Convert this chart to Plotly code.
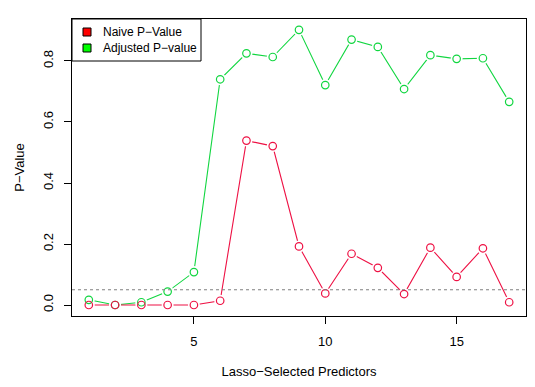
import plotly.graph_objects as go

predictors = list(range(1, 18))
naive_p = [0.0, 0.0, 0.0, 0.0, 0.0, 0.014, 0.539, 0.521, 0.192, 0.038, 0.168, 0.122, 0.036, 0.188, 0.092, 0.186, 0.009]
adjusted_p = [0.017, 0.0, 0.009, 0.044, 0.108, 0.740, 0.825, 0.813, 0.902, 0.721, 0.870, 0.846, 0.708, 0.819, 0.807, 0.809, 0.666]
threshold = 0.05
x_ticks = [5, 10, 15]
y_ticks = [0.0, 0.2, 0.4, 0.6, 0.8]
legend_labels = ["Naive P\u2212Value", "Adjusted P\u2212value"]
legend_fills = ["#FF0000", "#00FF00"]

RED = "#EE1144"
GREEN = "#11D640"
FONT = "Liberation Sans, Arial, sans-serif"
FS = 13

# page body has an 8px default margin; size figure so the plot area lands where the reference has it
W, H = 519, 371
ML, MR, MT, MB = 64, 1, 11, 63
PW, PH = W - ML - MR, H - MT - MB

fig = go.Figure()
for ys, c in [(adjusted_p, GREEN), (naive_p, RED)]:
    fig.add_trace(go.Scatter(x=predictors, y=ys, mode="lines", line=dict(color=c, width=1.1),
                             showlegend=False, hoverinfo="skip"))
for ys in [adjusted_p, naive_p]:
    fig.add_trace(go.Scatter(x=predictors, y=ys, mode="markers",
                             marker=dict(symbol="circle", size=12, color="white", line=dict(width=0)),
                             showlegend=False, hoverinfo="skip"))
for ys, c, n in [(adjusted_p, GREEN, legend_labels[1]), (naive_p, RED, legend_labels[0])]:
    fig.add_trace(go.Scatter(x=predictors, y=ys, mode="markers", name=n,
                             marker=dict(symbol="circle-open", size=7.5, color=c, line=dict(width=1.2, color=c)),
                             showlegend=False))

fig.add_shape(type="line", xref="paper", x0=0, x1=1, yref="y", y0=threshold, y1=threshold,
              line=dict(color="#808080", width=1.2, dash="dot"))

# legend box drawn by hand (R-style)
def px_x(p):
    return p / PW
def px_y(p):
    return 1 - p / PH

fig.add_shape(type="rect", xref="paper", yref="paper", x0=0, x1=px_x(129), y0=px_y(42), y1=1,
              line=dict(color="black", width=1), fillcolor="white", layer="above")
for i, (lab, col) in enumerate(zip(legend_labels, legend_fills)):
    cy = 13 + 16 * i
    fig.add_shape(type="rect", xref="paper", yref="paper",
                  x0=px_x(11), x1=px_x(19), y0=px_y(cy + 4), y1=px_y(cy - 4),
                  line=dict(color="black", width=1), fillcolor=col, layer="above")
    fig.add_annotation(xref="paper", yref="paper", x=px_x(29), y=px_y(cy), text=lab,
                       showarrow=False, xanchor="left", yanchor="middle",
                       font=dict(size=12, family=FONT, color="black"))

fig.update_layout(
    width=W, height=H,
    margin=dict(l=ML, r=MR, t=MT, b=MB),
    paper_bgcolor="white", plot_bgcolor="white",
    font=dict(family=FONT, size=FS, color="black"),
    showlegend=False,
    xaxis=dict(range=[0.36, 17.64], tickvals=x_ticks, ticktext=[str(v) for v in x_ticks],
               automargin=False, ticklabelstandoff=6,
               showgrid=False, zeroline=False, showline=True, linecolor="black", linewidth=1, mirror=True,
               ticks="outside", ticklen=7, tickcolor="black",
               title=dict(text="Lasso\u2212Selected Predictors", standoff=20, font=dict(size=FS))),
    yaxis=dict(range=[-0.036, 0.9376], tickvals=y_ticks, ticktext=[f"{v:.1f}" for v in y_ticks],
               tickangle=-90, automargin=False, ticklabelstandoff=6,
               showgrid=False, zeroline=False, showline=True, linecolor="black", linewidth=1, mirror=True,
               ticks="outside", ticklen=7, tickcolor="black",
               title=dict(text="P\u2212Value", standoff=13, font=dict(size=FS))),
)

fig.write_html("out.html")
